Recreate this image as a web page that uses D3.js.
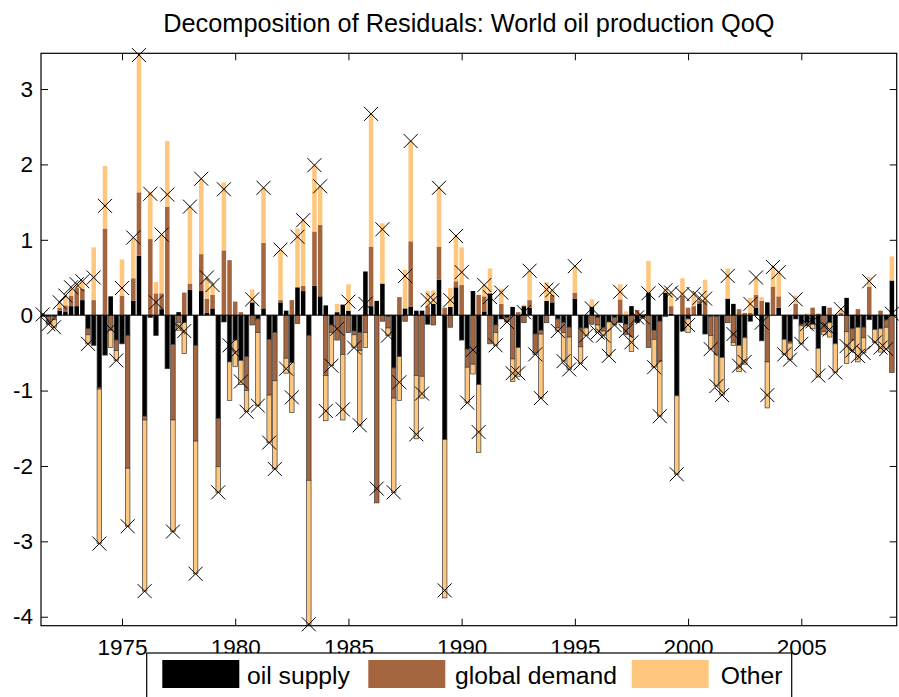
<!DOCTYPE html>
<html><head><meta charset="utf-8">
<script src="https://cdn.jsdelivr.net/npm/d3@7"></script>
<style>
html,body{margin:0;padding:0;background:#fff;}
svg{display:block;font-family:"Liberation Sans",Arial,Helvetica,sans-serif;}
</style></head><body>
<svg id="chart" width="899" height="697"></svg>
<script>
const quarters = [
"1971Q3","1971Q4",
"1972Q1","1972Q2","1972Q3","1972Q4",
"1973Q1","1973Q2","1973Q3","1973Q4",
"1974Q1","1974Q2","1974Q3","1974Q4",
"1975Q1","1975Q2","1975Q3","1975Q4",
"1976Q1","1976Q2","1976Q3","1976Q4",
"1977Q1","1977Q2","1977Q3","1977Q4",
"1978Q1","1978Q2","1978Q3","1978Q4",
"1979Q1","1979Q2","1979Q3","1979Q4",
"1980Q1","1980Q2","1980Q3","1980Q4",
"1981Q1","1981Q2","1981Q3","1981Q4",
"1982Q1","1982Q2","1982Q3","1982Q4",
"1983Q1","1983Q2","1983Q3","1983Q4",
"1984Q1","1984Q2","1984Q3","1984Q4",
"1985Q1","1985Q2","1985Q3","1985Q4",
"1986Q1","1986Q2","1986Q3","1986Q4",
"1987Q1","1987Q2","1987Q3","1987Q4",
"1988Q1","1988Q2","1988Q3","1988Q4",
"1989Q1","1989Q2","1989Q3","1989Q4",
"1990Q1","1990Q2","1990Q3","1990Q4",
"1991Q1","1991Q2","1991Q3","1991Q4",
"1992Q1","1992Q2","1992Q3","1992Q4",
"1993Q1","1993Q2","1993Q3","1993Q4",
"1994Q1","1994Q2","1994Q3","1994Q4",
"1995Q1","1995Q2","1995Q3","1995Q4",
"1996Q1","1996Q2","1996Q3","1996Q4",
"1997Q1","1997Q2","1997Q3","1997Q4",
"1998Q1","1998Q2","1998Q3","1998Q4",
"1999Q1","1999Q2","1999Q3","1999Q4",
"2000Q1","2000Q2","2000Q3","2000Q4",
"2001Q1","2001Q2","2001Q3","2001Q4",
"2002Q1","2002Q2","2002Q3","2002Q4",
"2003Q1","2003Q2","2003Q3","2003Q4",
"2004Q1","2004Q2","2004Q3","2004Q4",
"2005Q1","2005Q2","2005Q3","2005Q4",
"2006Q1","2006Q2","2006Q3","2006Q4",
"2007Q1","2007Q2","2007Q3","2007Q4",
"2008Q1","2008Q2","2008Q3","2008Q4",
"2009Q1"];

const oilSupply = [
0.01,-0.02,
-0.02,0.06,0.05,0.12,
0.12,0.20,-0.18,-0.40,
-0.96,-0.53,0.25,-0.33,
-0.38,-0.27,0.19,0.79,
-1.34,-0.03,-0.27,0.08,
-0.71,-0.39,0.04,-0.10,
0.34,-0.40,0.32,0.03,
0.09,-1.37,-0.09,-0.62,
-0.33,-0.60,-0.55,0.17,
-0.05,0.09,-0.32,-0.23,
0.17,0.06,-0.63,0.37,
0.32,-0.27,0.39,0.25,
0.13,-0.13,0.04,0.14,
0.06,-0.21,-0.23,0.58,
0.12,0.19,0.42,-0.02,
-0.70,-0.55,0.09,0.11,
0.06,0.06,-0.12,0.15,
0.47,-1.65,0.11,0.37,
-0.33,-0.45,0.32,-0.92,
0.05,0.29,-0.13,-0.05,
-0.03,0.11,-0.43,0.12,
0.10,-0.25,-0.20,0.19,
0.17,-0.05,-0.10,-0.16,
0.22,-0.17,-0.17,0.11,
-0.03,-0.16,-0.09,-0.03,
-0.10,-0.12,0.12,-0.10,
-0.03,0.30,-0.20,-0.08,
0.30,0.02,-1.07,-0.21,
-0.05,0.00,0.15,-0.25,
-0.02,-0.02,-0.56,0.22,
0.15,-0.40,-0.30,-0.08,
0.10,-0.34,0.17,0.00,
0.10,-0.32,-0.35,-0.05,
-0.12,-0.10,-0.12,-0.44,
0.12,-0.10,-0.38,0.00,
0.23,-0.18,-0.16,-0.16,
-0.06,-0.19,-0.18,-0.06,
0.46];

const globalDemand = [
0.02,-0.10,
-0.04,0.04,0.08,0.14,
0.24,0.15,-0.08,0.20,
-0.02,1.15,-0.20,-0.14,
0.26,-1.76,0.30,0.84,
-0.05,1.01,0.29,0.21,
1.44,-1.00,-0.10,0.30,
0.08,-1.27,0.49,0.19,
0.18,-0.64,0.86,0.73,
0.18,0.04,-0.45,-0.13,
-0.18,0.87,-0.74,-0.64,
0.03,-0.57,0.20,-0.11,
0.07,-1.92,0.72,0.95,
-0.80,-0.10,-0.33,-0.52,
-0.23,-0.05,-0.24,-0.23,
0.79,-2.49,-0.08,-0.15,
-0.40,0.24,-0.08,0.87,
-0.80,-0.81,0.12,-0.13,
0.44,0.10,-0.16,0.08,
0.40,-0.24,-0.65,0.27,
0.20,-0.38,-0.10,0.15,
-0.05,-0.58,0.04,-0.10,
0.10,-0.25,-0.05,-0.10,
0.10,-0.12,-0.13,-0.13,
0.08,-0.25,0.00,-0.12,
-0.10,-0.05,0.00,-0.10,
0.21,-0.14,-0.28,0.07,
0.01,-0.43,-0.12,-0.53,
-0.02,0.10,0.00,0.26,
0.10,0.12,0.04,0.19,
-0.25,-0.50,0.00,-0.10,
-0.36,0.08,0.03,0.03,
0.17,0.19,-0.62,0.38,
0.15,0.00,-0.02,0.15,
-0.02,-0.04,0.10,0.02,
-0.22,0.10,0.00,0.03,
-0.22,-0.15,0.08,-0.14,
0.38,0.00,0.06,-0.10,
-0.76];

const otherShock = [
-0.02,0.00,
-0.10,0.07,0.13,0.11,
0.05,0.10,-0.12,0.70,
-2.05,0.83,-0.23,-0.13,
0.48,-0.77,0.54,1.82,
-2.27,0.63,0.15,0.78,
0.87,-1.48,-0.10,-0.41,
1.02,-1.76,1.00,0.28,
0.13,-0.34,0.90,-0.51,
-0.35,-0.32,-0.28,0.17,
-0.97,0.73,-0.63,-1.17,
0.67,-0.20,-0.66,0.78,
0.87,-1.91,0.88,0.51,
-0.60,-0.44,0.11,-0.87,
0.35,-0.17,-0.99,-0.20,
1.76,0.00,0.80,-0.10,
-1.25,-0.58,0.51,1.33,
-0.84,-0.29,0.20,0.18,
0.78,-2.10,0.25,0.60,
0.50,-0.47,-0.13,-0.90,
0.15,0.33,-0.17,0.20,
-0.01,-0.30,-0.38,0.02,
0.39,-0.02,-0.85,0.25,
0.06,-0.04,-0.38,-0.43,
0.35,-0.22,-0.10,0.10,
-0.10,-0.06,-0.45,0.00,
0.20,0.05,-0.20,0.00,
-0.01,0.42,-0.37,-0.73,
0.05,0.18,-1.04,0.23,
-0.18,0.16,0.04,0.28,
-0.18,-0.42,-0.50,0.40,
-0.04,-0.35,-0.35,0.20,
0.23,0.05,-0.61,0.26,
0.32,-0.20,-0.22,0.11,
-0.24,0.02,-0.06,-0.38,
-0.04,-0.19,-0.38,0.05,
-0.42,-0.14,-0.46,-0.20,
0.13,-0.17,-0.31,-0.29,
0.32];

const seriesNames = ["oil supply","global demand","Other"];
const seriesColors = ["#000000","#A5653F","#FFC77D"];
const xTickValues = [1975,1980,1985,1990,1995,2000,2005];
const yTickValues = [-4,-3,-2,-1,0,1,2,3];
const titleText = "Decomposition of Residuals: World oil production QoQ";

const plot = {left:41, right:896.7, top:53.3, bottom:625.7};
const svg = d3.select("#chart");

const dates = quarters.map(q => { const p = q.split("Q"); return +p[0] + (+p[1] - 1) / 4; });
const x = d3.scaleLinear().domain([1971.423, 2009.213]).range([plot.left, plot.right]);
const y = d3.scaleLinear().domain([-4.119, 3.474]).range([plot.bottom, plot.top]);

const rows = quarters.map((q, i) => ({date: dates[i], s: oilSupply[i], d: globalDemand[i], o: otherShock[i]}));
const keys = ["s","d","o"];
const layers = d3.stack().keys(keys).offset(d3.stackOffsetDiverging)(rows);
const bw = x(0.2) - x(0);

svg.append("defs").append("clipPath").attr("id","clip")
  .append("rect").attr("x",plot.left).attr("y",plot.top)
  .attr("width",plot.right-plot.left).attr("height",plot.bottom-plot.top);

const barsG = svg.append("g").attr("clip-path","url(#clip)");
layers.forEach((layer, li) => {
  barsG.append("g").selectAll("rect").data(layer).join("rect")
    .attr("x", p => x(p.data.date) - bw/2)
    .attr("y", p => y(Math.max(p[0], p[1])))
    .attr("width", bw)
    .attr("height", p => Math.abs(y(p[0]) - y(p[1])))
    .attr("fill", seriesColors[li])
    .attr("stroke", p => p.data[keys[li]] < 0 ? "#3c3c3c" : "none")
    .attr("stroke-width", 0.7);
});

// zero baseline
svg.append("line").attr("x1",plot.left).attr("x2",plot.right)
  .attr("y1",y(0)).attr("y2",y(0)).attr("stroke","#000").attr("stroke-width",1);

// total markers
svg.append("g").selectAll("path").data(rows).join("path")
  .attr("transform", r => `translate(${x(r.date)},${y(r.s + r.d + r.o)})`)
  .attr("d","M-7,-7L7,7M-7,7L7,-7")
  .attr("stroke","#000").attr("stroke-width",1).attr("fill","none");

// axes
const fs = "22.5px";
const plainFmt = d => String(d);
const gx = svg.append("g").attr("transform",`translate(0,${plot.bottom})`)
  .call(d3.axisBottom(x).tickValues(xTickValues).tickFormat(plainFmt).tickSize(-7).tickPadding(13));
const gxt = svg.append("g").attr("transform",`translate(0,${plot.top})`)
  .call(d3.axisTop(x).tickValues(xTickValues).tickFormat("").tickSize(-7));
const gy = svg.append("g").attr("transform",`translate(${plot.left},0)`)
  .call(d3.axisLeft(y).tickValues(yTickValues).tickFormat(plainFmt).tickSize(-7).tickPadding(8));
const gyr = svg.append("g").attr("transform",`translate(${plot.right},0)`)
  .call(d3.axisRight(y).tickValues(yTickValues).tickFormat("").tickSize(-7));
[gx,gxt,gy,gyr].forEach(g => {
  g.select(".domain").remove();
  g.selectAll(".tick line").attr("stroke","#000").attr("stroke-width",1);
  g.selectAll(".tick text").attr("fill","#000").style("font-size",fs)
    .style("font-family","'Liberation Sans',Arial,Helvetica,sans-serif");
});

// box
svg.append("rect").attr("x",plot.left).attr("y",plot.top)
  .attr("width",plot.right-plot.left).attr("height",plot.bottom-plot.top)
  .attr("fill","none").attr("stroke","#000").attr("stroke-width",1.2);

// title
svg.append("text").attr("x",(plot.left+plot.right)/2).attr("y",32)
  .attr("text-anchor","middle").style("font-size","25.3px").attr("fill","#000")
  .text(titleText);

// legend
const lg = svg.append("g");
lg.append("rect").attr("x",146.7).attr("y",653).attr("width",645).attr("height",60)
  .attr("fill","#fff").attr("stroke","#000").attr("stroke-width",1.2);
const legendItems = [
  {sx:162.3, tx:247},
  {sx:368.3, tx:455},
  {sx:631.7, tx:720.7}
];
legendItems.forEach((it, i) => {
  lg.append("rect").attr("x",it.sx).attr("y",660).attr("width",77).attr("height",28)
    .attr("fill",seriesColors[i]);
  lg.append("text").attr("x",it.tx).attr("y",684).style("font-size","24.7px")
    .attr("fill","#000").text(seriesNames[i]);
});
</script>
</body></html>
